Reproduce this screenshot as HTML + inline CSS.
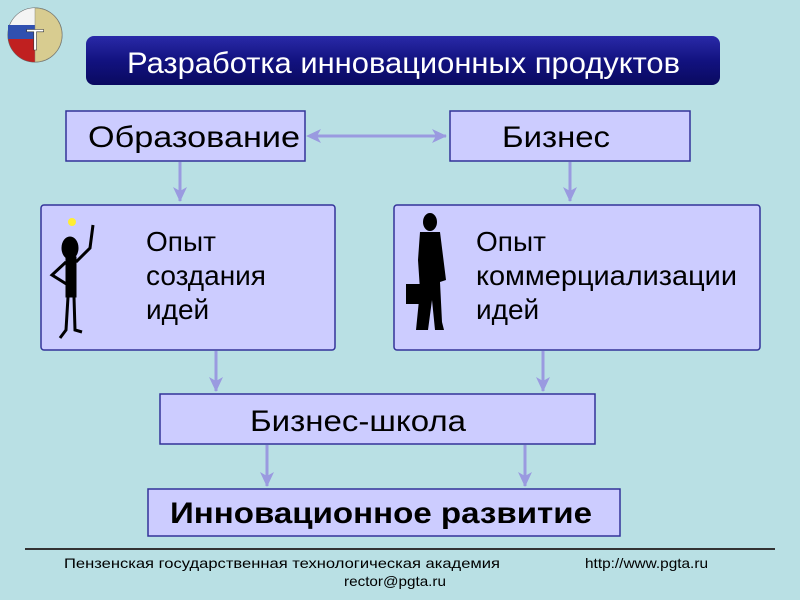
<!DOCTYPE html>
<html><head><meta charset="utf-8"><style>
html,body{margin:0;padding:0;width:800px;height:600px;overflow:hidden;background:#b9e0e4;}
svg{display:block}
text{font-family:"Liberation Sans","DejaVu Sans",sans-serif;}
</style></head><body>
<svg width="800" height="600" viewBox="0 0 800 600" xmlns="http://www.w3.org/2000/svg">
<defs>
<linearGradient id="tg" x1="0" y1="0" x2="0" y2="1">
<stop offset="0" stop-color="#2a2aa8"/><stop offset="0.5" stop-color="#121280"/><stop offset="1" stop-color="#0a0a60"/>
</linearGradient>
<marker id="ah" markerWidth="16" markerHeight="16" refX="14" refY="8" orient="auto" markerUnits="userSpaceOnUse">
<path d="M0,1 L15,8 L0,15 L4,8 z" fill="#9a9ae0"/>
</marker>
</defs>
<rect width="800" height="600" fill="#b9e0e4"/>
<!-- logo -->
<circle cx="35" cy="35" r="27" fill="#e8e0c0" stroke="#666" stroke-width="1"/>
<path d="M35,8 A27,27 0 0 0 8,35 L35,35 z" fill="#f4f4f4"/>
<path d="M8,35 A27,27 0 0 0 35,62 L35,35 z" fill="#c02020"/>
<rect x="8" y="25" width="27" height="14" fill="#3050b0"/>
<path d="M35,8 A27,27 0 0 1 35,62 z" fill="#d8cc90" stroke="#887" stroke-width="0.5"/>
<text x="26" y="50" font-size="30" font-family="Liberation Serif" fill="#fff" stroke="#333" stroke-width="0.6">T</text>
<!-- title -->
<rect x="86" y="36" width="634" height="49" rx="8" fill="url(#tg)"/>
<text x="127" y="73" font-size="30" fill="#fff" textLength="553" lengthAdjust="spacingAndGlyphs">Разработка инновационных продуктов</text>
<!-- boxes -->
<g fill="#ccccff" stroke="#333399" stroke-width="1.5">
<rect x="66" y="111" width="239" height="50"/>
<rect x="450" y="111" width="240" height="50"/>
<rect x="41" y="205" width="294" height="145" rx="3"/>
<rect x="394" y="205" width="366" height="145" rx="3"/>
<rect x="160" y="394" width="435" height="50"/>
<rect x="148" y="489" width="472" height="47"/>
</g>
<!-- arrows -->
<g stroke="#9a9ae0" stroke-width="3" fill="none">
<line x1="312" y1="136" x2="446" y2="136" marker-end="url(#ah)"/>
<line x1="180" y1="162" x2="180" y2="201" marker-end="url(#ah)"/>
<line x1="570" y1="162" x2="570" y2="201" marker-end="url(#ah)"/>
<line x1="216" y1="351" x2="216" y2="391" marker-end="url(#ah)"/>
<line x1="543" y1="351" x2="543" y2="391" marker-end="url(#ah)"/>
<line x1="267" y1="445" x2="267" y2="486" marker-end="url(#ah)"/>
<line x1="525" y1="445" x2="525" y2="486" marker-end="url(#ah)"/>
</g>
<path d="M306,136 L321,129 L317,136 L321,143 z" fill="#9a9ae0"/>
<!-- texts -->
<g font-size="30" fill="#000">
<text x="88" y="147" textLength="212" lengthAdjust="spacingAndGlyphs">Образование</text>
<text x="502" y="147" textLength="108" lengthAdjust="spacingAndGlyphs">Бизнес</text>
<text x="146" y="251" font-size="28">Опыт</text>
<text x="146" y="285" font-size="28">создания</text>
<text x="146" y="319" font-size="28">идей</text>
<text x="476" y="251" font-size="28">Опыт</text>
<text x="476" y="285" font-size="28" textLength="261" lengthAdjust="spacingAndGlyphs">коммерциализации</text>
<text x="476" y="319" font-size="28">идей</text>
<text x="250" y="431" textLength="216" lengthAdjust="spacingAndGlyphs">Бизнес-школа</text>
<text x="170" y="523" font-weight="bold" textLength="422" lengthAdjust="spacingAndGlyphs">Инновационное развитие</text>
</g>
<!-- stick figure -->
<g fill="#000" stroke="#000">
<ellipse cx="70" cy="248" rx="8" ry="11" />
<rect x="66" y="257" width="10" height="40"/>
<path d="M76,262 L90,248 L93,225" stroke-width="3" fill="none"/>
<path d="M66,262 L52,275 L68,285" stroke-width="3" fill="none"/>
<path d="M68,297 L66,330 L60,338 M74,297 L75,330 L82,332" stroke-width="3" fill="none"/>
</g>
<circle cx="72" cy="222" r="4" fill="#ffee33"/>
<!-- businessman -->
<g fill="#000">
<ellipse cx="430" cy="222" rx="7" ry="9"/>
<path d="M420,232 L440,232 L446,280 L440,282 L442,322 L444,330 L435,330 L432,300 L428,330 L416,330 L420,290 L418,260 Z"/>
<rect x="406" y="284" width="16" height="20"/>
</g>
<!-- footer -->
<line x1="25" y1="549" x2="775" y2="549" stroke="#333" stroke-width="2"/>
<text x="64" y="568" font-size="14" fill="#000" textLength="436" lengthAdjust="spacingAndGlyphs">Пензенская государственная технологическая академия</text>
<text x="585" y="568" font-size="14" fill="#000" textLength="123" lengthAdjust="spacingAndGlyphs">http://www.pgta.ru</text>
<text x="344" y="586" font-size="14" fill="#000" textLength="102" lengthAdjust="spacingAndGlyphs">rector@pgta.ru</text>
</svg>
</body></html>
